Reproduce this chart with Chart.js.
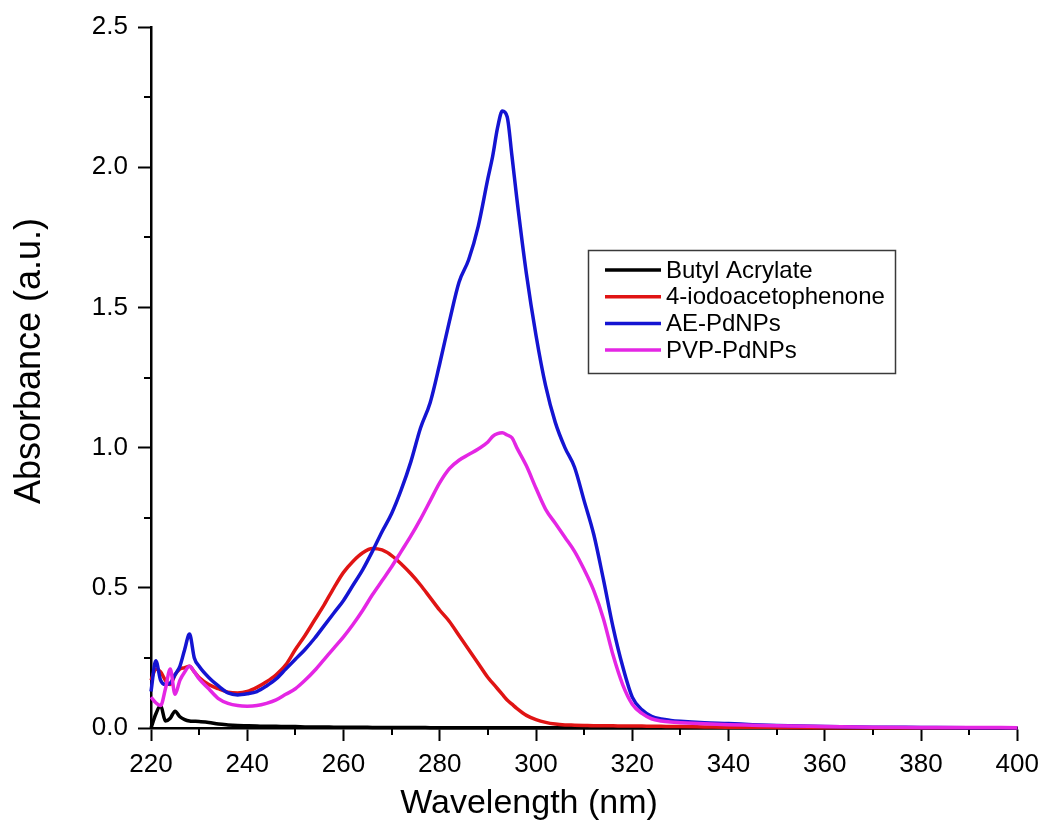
<!DOCTYPE html>
<html>
<head>
<meta charset="utf-8">
<script src="https://cdn.jsdelivr.net/npm/chart.js@4.4.1/dist/chart.umd.min.js"></script>
<style>
  html, body { margin: 0; padding: 0; background: #ffffff; }
  #wrap { width: 1047px; height: 831px; }
</style>
</head>
<body>
<div id="wrap"><canvas id="chart" width="1047" height="831"></canvas></div>
<script>
// UV-Vis absorbance spectra, wavelength in nm
const wavelengths = [
  220, 221, 222, 223, 224, 225, 226, 227, 228, 229, 230,
  232, 234, 236, 238, 240, 242, 244, 246, 248, 250, 252, 254, 256, 258, 260,
  262, 264, 266, 268, 270, 272, 274, 276, 278, 280, 282, 284, 286, 288, 290,
  291, 292, 293, 294, 295, 296,
  298, 300, 302, 304, 306, 308, 310, 312, 314, 316, 318, 320, 322, 324, 326, 328, 330,
  335, 340, 345, 350,
  360, 370, 380, 390, 400
];

const butylAcrylate = [
  0.000, 0.050, 0.080, 0.025, 0.035, 0.060, 0.040, 0.030, 0.025, 0.024, 0.023,
  0.020, 0.014, 0.011, 0.009, 0.008, 0.007, 0.006, 0.006, 0.005, 0.005, 0.004, 0.004, 0.004, 0.003, 0.003,
  0.003, 0.003, 0.002, 0.002, 0.002, 0.002, 0.002, 0.002, 0.001, 0.001, 0.001, 0.001, 0.001, 0.001, 0.001,
  0.001, 0.001, 0.001, 0.001, 0.001, 0.001,
  0.001, 0.001, 0.001, 0.001, 0.001, 0.001, 0.001, 0.001, 0.001, 0.001, 0.001, 0.001, 0.001, 0.001, 0.001, 0.001, 0.001,
  0.001, 0.001, 0.0005, 0.0005,
  0.000, 0.000, 0.000, 0.000, 0.000
];

const iodoacetophenone = [
  0.170, 0.210, 0.200, 0.170, 0.155, 0.190, 0.210, 0.215, 0.220, 0.200, 0.180,
  0.155, 0.140, 0.128, 0.125, 0.130, 0.145, 0.165, 0.190, 0.225, 0.280, 0.330, 0.385, 0.440, 0.500, 0.555,
  0.595, 0.625, 0.640, 0.635, 0.615, 0.585, 0.550, 0.510, 0.465, 0.420, 0.380, 0.330, 0.280, 0.230, 0.180,
  0.160, 0.140, 0.120, 0.100, 0.085, 0.070,
  0.045, 0.030, 0.020, 0.014, 0.011, 0.010, 0.009, 0.008, 0.008, 0.008, 0.007, 0.007, 0.007, 0.006, 0.006, 0.005, 0.005,
  0.004, 0.003, 0.003, 0.002,
  0.001, 0.001, 0.001, 0.0005, 0.0005
];

const aePdNPs = [
  0.130, 0.240, 0.170, 0.155, 0.160, 0.190, 0.220, 0.280, 0.335, 0.250, 0.220,
  0.180, 0.150, 0.125, 0.118, 0.122, 0.130, 0.150, 0.175, 0.210, 0.245, 0.280, 0.320, 0.365, 0.410, 0.455,
  0.510, 0.565, 0.630, 0.700, 0.765, 0.850, 0.950, 1.070, 1.160, 1.300, 1.450, 1.590, 1.670, 1.790, 1.960,
  2.040, 2.140, 2.200, 2.180, 2.040, 1.890,
  1.620, 1.400, 1.220, 1.090, 1.000, 0.930, 0.810, 0.690, 0.530, 0.360, 0.220, 0.110, 0.065, 0.042, 0.032, 0.027, 0.024,
  0.019, 0.016, 0.012, 0.009,
  0.005, 0.003, 0.002, 0.001, 0.001
];

const pvpPdNPs = [
  0.110, 0.090, 0.080, 0.140, 0.210, 0.120, 0.170, 0.200, 0.220, 0.200, 0.175,
  0.140, 0.105, 0.088, 0.080, 0.078, 0.080, 0.088, 0.100, 0.120, 0.140, 0.170, 0.205, 0.245, 0.285, 0.325,
  0.370, 0.420, 0.475, 0.525, 0.575, 0.630, 0.685, 0.745, 0.810, 0.875, 0.925, 0.955, 0.975, 0.995, 1.020,
  1.040, 1.050, 1.053, 1.045, 1.035, 1.000,
  0.935, 0.855, 0.780, 0.730, 0.680, 0.630, 0.565, 0.490, 0.390, 0.260, 0.155, 0.085, 0.052, 0.033, 0.025, 0.021, 0.019,
  0.015, 0.012, 0.010, 0.008,
  0.005, 0.003, 0.002, 0.002, 0.001
];

const seriesNames = ['Butyl Acrylate', '4-iodoacetophenone', 'AE-PdNPs', 'PVP-PdNPs'];
const seriesColors = ['#000000', '#e01414', '#1414d2', '#e426e4'];
const seriesValues = [butylAcrylate, iodoacetophenone, aePdNPs, pvpPdNPs];

const xAxisTitle = 'Wavelength (nm)';
const yAxisTitle = 'Absorbance (a.u.)';

const FONT = '"Liberation Sans", Arial, Helvetica, sans-serif';

const toPoints = (values) => wavelengths.map((w, i) => ({ x: w, y: values[i] }));

const isMajor = (v, step) => Math.abs(v / step - Math.round(v / step)) < 1e-6;

// Short minor ticks between the labelled ones
const minorTicks = {
  id: 'minorTicks',
  beforeDatasetsDraw(chart) {
    const { ctx, chartArea, scales } = chart;
    ctx.save();
    ctx.strokeStyle = '#000';
    ctx.lineWidth = 2;
    ctx.beginPath();
    scales.x.ticks.forEach(t => {
      if (!isMajor(t.value, 20)) {
        const px = Math.round(scales.x.getPixelForValue(t.value));
        ctx.moveTo(px, chartArea.bottom);
        ctx.lineTo(px, chartArea.bottom + 7);
      }
    });
    scales.y.ticks.forEach(t => {
      if (!isMajor(t.value, 0.5)) {
        const py = Math.round(scales.y.getPixelForValue(t.value));
        ctx.moveTo(chartArea.left, py);
        ctx.lineTo(chartArea.left - 7, py);
      }
    });
    ctx.stroke();
    ctx.restore();
  }
};

// Axis titles
const axisTitles = {
  id: 'axisTitles',
  afterDraw(chart) {
    const { ctx } = chart;
    ctx.save();
    ctx.fillStyle = '#000';
    ctx.textAlign = 'center';
    ctx.textBaseline = 'middle';
    ctx.font = '34px ' + FONT;
    ctx.fillText(xAxisTitle, 529, 804);
    ctx.translate(30, 361);
    ctx.rotate(-Math.PI / 2);
    ctx.font = '36px ' + FONT;
    ctx.fillText(yAxisTitle, 0, 0);
    ctx.restore();
  }
};

// Boxed legend inside the plot
const boxLegend = {
  id: 'boxLegend',
  afterDraw(chart) {
    const { ctx } = chart;
    const box = { x: 588.5, y: 250.5, w: 307, h: 123 };
    ctx.save();
    ctx.fillStyle = '#ffffff';
    ctx.fillRect(box.x, box.y, box.w, box.h);
    ctx.strokeStyle = '#3a3a3a';
    ctx.lineWidth = 1.5;
    ctx.strokeRect(box.x, box.y, box.w, box.h);
    ctx.font = '24px ' + FONT;
    ctx.textBaseline = 'middle';
    ctx.textAlign = 'left';
    chart.data.datasets.forEach((ds, i) => {
      const y = 270 + i * 26.7;
      ctx.strokeStyle = ds.borderColor;
      ctx.lineWidth = 3.5;
      ctx.beginPath();
      ctx.moveTo(605, y);
      ctx.lineTo(661, y);
      ctx.stroke();
      ctx.fillStyle = '#000';
      ctx.fillText(ds.label, 666, y + 1);
    });
    ctx.restore();
  }
};

const datasets = seriesNames.map((name, i) => ({
  label: name,
  data: toPoints(seriesValues[i]),
  borderColor: seriesColors[i],
  backgroundColor: seriesColors[i],
  borderWidth: 3.5,
  pointRadius: 0,
  fill: false,
  cubicInterpolationMode: 'monotone',
  clip: false,
  order: seriesNames.length - i
}));

new Chart(document.getElementById('chart'), {
  type: 'line',
  data: { datasets },
  options: {
    responsive: false,
    animation: false,
    devicePixelRatio: 1,
    layout: { padding: { top: 27, right: 26, bottom: 0, left: 0 } },
    plugins: {
      legend: { display: false },
      tooltip: { enabled: false }
    },
    scales: {
      x: {
        type: 'linear',
        min: 220,
        max: 400,
        afterFit: (scale) => { scale.height = 103; },
        border: { display: true, color: '#000', width: 2.5 },
        grid: {
          drawOnChartArea: false,
          drawTicks: true,
          tickLength: 13,
          tickWidth: 2,
          tickColor: (c) => (c.tick && isMajor(c.tick.value, 20)) ? '#000' : 'rgba(0,0,0,0)'
        },
        ticks: {
          stepSize: 10,
          autoSkip: false,
          maxRotation: 0,
          padding: 8,
          color: '#000',
          font: { family: FONT, size: 26 },
          callback: (v) => isMajor(v, 20) ? String(v) : ''
        }
      },
      y: {
        type: 'linear',
        min: 0,
        max: 2.5,
        afterFit: (scale) => { scale.width = 151; },
        border: { display: true, color: '#000', width: 2.5 },
        grid: {
          drawOnChartArea: false,
          drawTicks: true,
          tickLength: 13,
          tickWidth: 2,
          tickColor: (c) => (c.tick && isMajor(c.tick.value, 0.5)) ? '#000' : 'rgba(0,0,0,0)'
        },
        ticks: {
          stepSize: 0.25,
          autoSkip: false,
          padding: 10,
          color: '#000',
          font: { family: FONT, size: 26 },
          callback: (v) => isMajor(v, 0.5) ? v.toFixed(1) : ''
        }
      }
    }
  },
  plugins: [minorTicks, axisTitles, boxLegend]
});
</script>
</body>
</html>
